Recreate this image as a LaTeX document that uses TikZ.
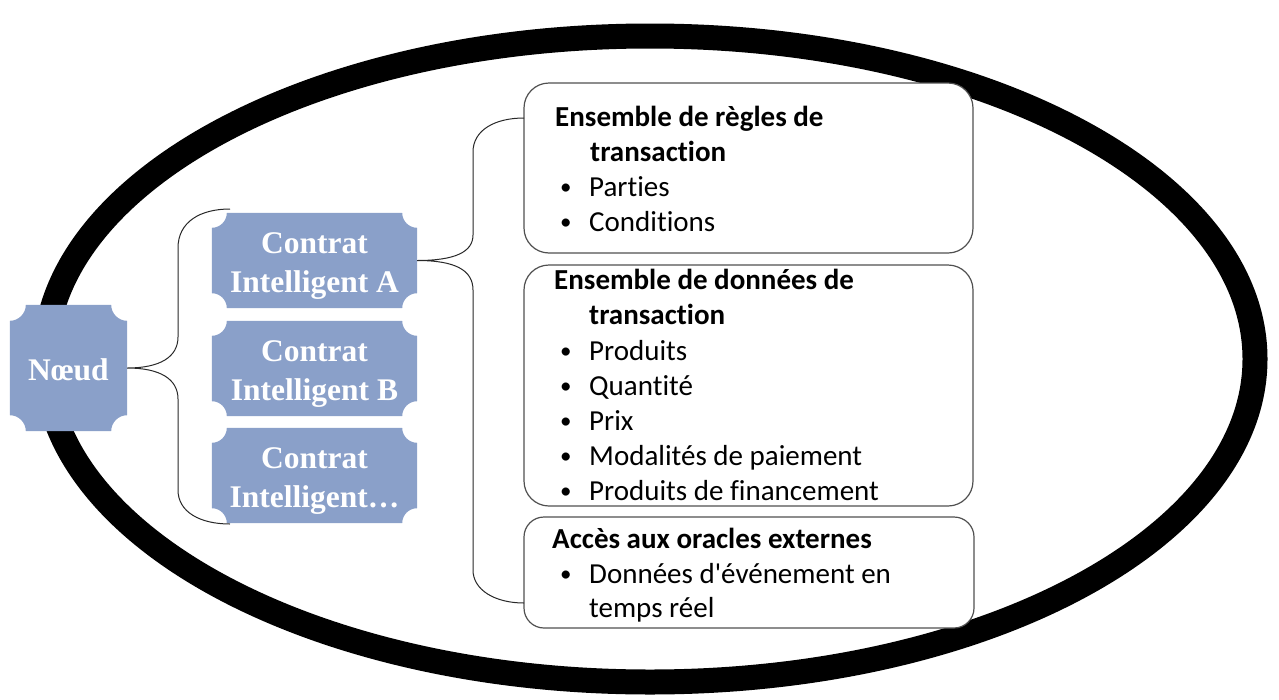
\documentclass[tikz,border=0pt]{standalone}
\usepackage{fontspec}
\setmainfont{Carlito}[Ligatures={NoCommon}]
\newfontfamily\tnr{Liberation Serif}
\usetikzlibrary{calc}
\definecolor{nodefill}{RGB}{138,160,201}
\definecolor{boxline}{RGB}{80,80,80}
\definecolor{braceline}{RGB}{40,40,40}
\tikzset{
  plate/.style={rectangle, inner sep=0pt, draw=none},
  ctext/.style={anchor=base, inner sep=0pt, text=white, font=\tnr\bfseries\fontsize{31.5}{38}\selectfont},
  infobox/.style={rectangle, draw=boxline, line width=1.2pt, fill=white, rounded corners=25pt, inner sep=0pt},
  itxt/.style={anchor=base west, inner sep=0pt, font=\fontsize{29}{35}\selectfont},
  ibold/.style={itxt, font=\bfseries\fontsize{29}{35}\selectfont},
  bracepath/.style={draw=braceline, line width=1pt},
  ring/.style={draw=black, line width=25pt}
}
\newcommand{\notchfill}[2]{%
  \fill[nodefill] ([xshift=#2]#1.north west) -- ([xshift=-#2]#1.north east)
    arc[start angle=180,end angle=270,radius=#2] -- ([yshift=#2]#1.south east)
    arc[start angle=90,end angle=180,radius=#2] -- ([xshift=#2]#1.south west)
    arc[start angle=0,end angle=90,radius=#2] -- ([yshift=-#2]#1.north west)
    arc[start angle=270,end angle=360,radius=#2] -- cycle;}
\newcommand{\bul}{\makebox[30pt][l]{\hspace*{1pt}\raisebox{1.5pt}{\fontsize{23}{23}\selectfont •}}}
\begin{document}
\begin{tikzpicture}[x=1pt,y=-1pt]
\path[use as bounding box, fill=white] (0,0) rectangle (1279,699);
% outer ring
\draw[ring] (650,359) ellipse [x radius=605, y radius=323];

% plates
\node[plate, minimum width=117pt, minimum height=126pt] (noeud) at (68.5,368) {};
\node[plate, minimum width=205pt, minimum height=95pt] (ca) at (314.5,260.5) {};
\node[plate, minimum width=205pt, minimum height=95pt] (cb) at (314.5,368.5) {};
\node[plate, minimum width=205pt, minimum height=95pt] (cc) at (314.5,475.5) {};
\notchfill{noeud}{16pt}
\notchfill{ca}{15pt}
\notchfill{cb}{15pt}
\notchfill{cc}{15pt}

\node[ctext] (noeudt) at (68.5,380) {Nœud};
\node[ctext] (ca1) at (314.5,253) {Contrat};
\node[ctext] (ca2) at (314.5,292) {Intelligent A};
\node[ctext] (cb1) at (314.5,361) {Contrat};
\node[ctext] (cb2) at (314.5,400) {Intelligent B};
\node[ctext] (cc1) at (314.5,468) {Contrat};
\node[ctext] (cc2) at (314.5,507) {Intelligent…};

% info boxes
\node[infobox, minimum width=449pt, minimum height=170pt] (r1) at (748.5,168) {};
\node[infobox, minimum width=449pt, minimum height=241pt] (r2) at (748.5,385.5) {};
\node[infobox, rounded corners=20pt, minimum width=450pt, minimum height=111pt] (r3) at (749,572.5) {};

% braces
\coordinate (b1top) at (230,209);
\coordinate (b1bot) at (230,524);
\coordinate (b2top) at (524,118);
\coordinate (b2bot) at (524,603);
\draw[bracepath] (b1top) .. controls (200,209) and (178,222) .. (178,248) -- (178,337)
  .. controls (178,357) and (160,368) .. (noeud.east)
  .. controls (160,368) and (178,379) .. (178,399) -- (178,490)
  .. controls (178,512) and (200,524) .. (b1bot);
\draw[bracepath] (b2top) .. controls (495,118) and (473,130) .. (473,152) -- (473,235)
  .. controls (473,252) and (455,260.5) .. (ca.east)
  .. controls (455,260.5) and (473,270) .. (473,290) -- (473,570)
  .. controls (473,590) and (495,603) .. (b2bot);

% box 1 text
\node[ibold] (r1a) at (555,126) {Ensemble de règles de};
\node[ibold] (r1b) at (590,161) {transaction};
\node[itxt] (r1c) at (559,196) {\bul Parties};
\node[itxt] (r1d) at (559,231) {\bul Conditions};
% box 2 text
\node[ibold] (r2a) at (554,289) {Ensemble de données de};
\node[ibold] (r2b) at (589,324) {transaction};
\node[itxt] (r2c) at (559,360) {\bul Produits};
\node[itxt] (r2d) at (559,395) {\bul Quantité};
\node[itxt] (r2e) at (559,430) {\bul Prix};
\node[itxt] (r2f) at (559,465) {\bul Modalités de paiement};
\node[itxt] (r2g) at (559,500) {\bul Produits de financement};
% box 3 text
\node[ibold] (r3a) at (552,548) {Accès aux oracles externes};
\node[itxt] (r3b) at (559,583) {\bul Données d\textquotesingle événement en};
\node[itxt] (r3c) at (589,617) {temps réel};
\end{tikzpicture}
\end{document}
